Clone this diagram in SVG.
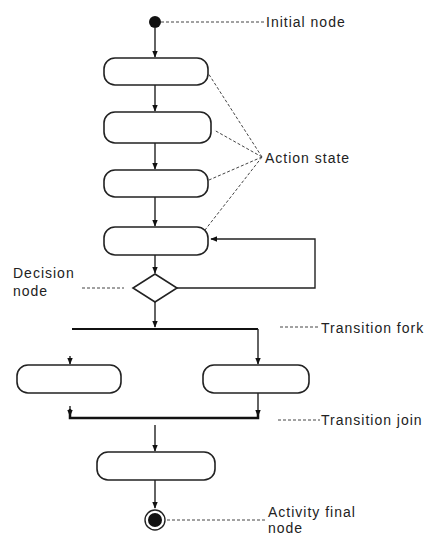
<svg xmlns="http://www.w3.org/2000/svg" width="431" height="536" viewBox="0 0 431 536">
<defs>
<marker id="ah" viewBox="0 0 10 10" refX="9" refY="5" markerWidth="5" markerHeight="5" orient="auto-start-reverse"><path d="M0,1 L10,5 L0,9 z" fill="#111"/></marker>
<style>
.act{fill:#fff;stroke:#222;stroke-width:1.6}
.edge{fill:none;stroke:#222;stroke-width:1.4}
.note{fill:none;stroke:#444;stroke-width:1;stroke-dasharray:3,2}
.lbl{font-family:"Liberation Sans",Arial,sans-serif;font-size:14px;letter-spacing:1px;fill:#222}
.bar{stroke:#111;stroke-width:2.5;fill:none}
</style>
</defs>
<rect width="431" height="536" fill="#fff"/>
<g id="connectors">
<line class="edge" x1="155" y1="28" x2="155" y2="57" marker-end="url(#ah)"/>
<line class="edge" x1="155" y1="85" x2="155" y2="111" marker-end="url(#ah)"/>
<line class="edge" x1="155" y1="143" x2="155" y2="169" marker-end="url(#ah)"/>
<line class="edge" x1="155" y1="197" x2="155" y2="226" marker-end="url(#ah)"/>
<line class="edge" x1="155" y1="255" x2="155" y2="273" marker-end="url(#ah)"/>
<polyline class="edge" points="177,288 315,288 315,239 211,239" marker-end="url(#ah)"/>
<line class="edge" x1="155" y1="302" x2="155" y2="327" marker-end="url(#ah)"/>
<line class="bar" x1="72" y1="329" x2="258" y2="329" style="stroke-width:2"/>
<line class="edge" x1="258" y1="329" x2="258" y2="364" marker-end="url(#ah)"/>
<line class="edge" x1="70" y1="356" x2="70" y2="364" marker-end="url(#ah)"/>
<line class="edge" x1="258" y1="393" x2="258" y2="416" marker-end="url(#ah)"/>
<line class="edge" x1="70" y1="406" x2="70" y2="416" marker-end="url(#ah)"/>
<polyline class="bar" points="70,409 70,418 258,418 258,410"/>
<line class="edge" x1="155" y1="425" x2="155" y2="451" marker-end="url(#ah)"/>
<line class="edge" x1="155" y1="480" x2="155" y2="508" marker-end="url(#ah)"/>
<line class="note" x1="161" y1="22" x2="264" y2="22"/>
<line class="note" x1="262" y1="157" x2="208" y2="73"/>
<line class="note" x1="262" y1="157" x2="214" y2="130"/>
<line class="note" x1="262" y1="157" x2="209" y2="180"/>
<line class="note" x1="262" y1="157" x2="205" y2="230"/>
<line class="note" x1="82" y1="288" x2="124" y2="288"/>
<line class="note" x1="280" y1="327" x2="320" y2="327"/>
<line class="note" x1="278" y1="420" x2="320" y2="420"/>
<line class="note" x1="167" y1="520" x2="265" y2="520"/>
</g>
<g id="initial"><circle cx="155" cy="22" r="6" fill="#111"/></g>
<g id="a1"><rect class="act" x="104" y="58" width="104" height="27" rx="11"/></g>
<g id="a2"><rect class="act" x="104" y="112" width="107" height="31" rx="11"/></g>
<g id="a3"><rect class="act" x="104" y="170" width="104" height="27" rx="11"/></g>
<g id="a4"><rect class="act" x="104" y="227" width="104" height="28" rx="11"/></g>
<g id="decision"><polygon class="act" points="155,274 177,288 155,302 133,288"/></g>
<g id="left"><rect class="act" x="17" y="365" width="104" height="28" rx="11"/></g>
<g id="right"><rect class="act" x="203" y="365" width="106" height="28" rx="11"/></g>
<g id="a5"><rect class="act" x="97" y="452" width="118" height="28" rx="11"/></g>
<g id="final"><circle cx="155" cy="520" r="10" fill="#fff" stroke="#222" stroke-width="1.4"/><circle cx="155" cy="520" r="7" fill="#111"/></g>
<g id="labels">
<text class="lbl" x="266" y="27">Initial node</text>
<text class="lbl" x="265" y="163">Action state</text>
<text class="lbl" x="13" y="278">Decision</text>
<text class="lbl" x="13" y="296">node</text>
<text class="lbl" x="321" y="333">Transition fork</text>
<text class="lbl" x="321" y="425">Transition join</text>
<text class="lbl" x="268" y="517">Activity final</text>
<text class="lbl" x="268" y="533">node</text>
</g>
</svg>
